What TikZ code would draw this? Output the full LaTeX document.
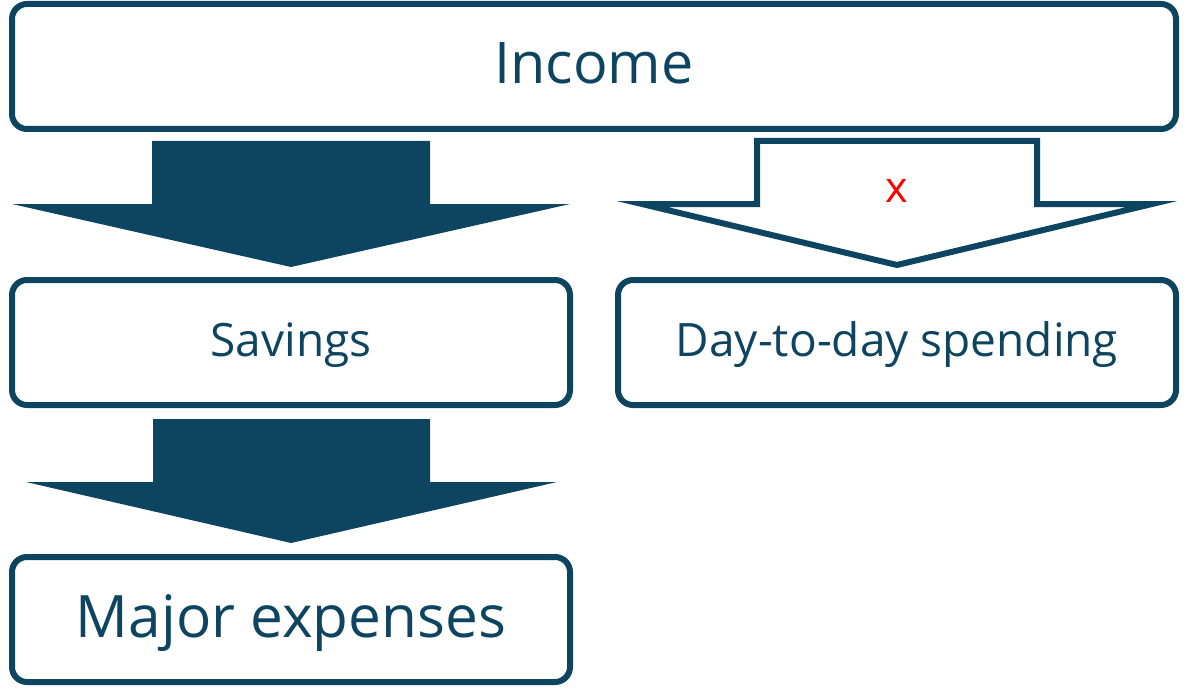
\documentclass[tikz,border=0pt]{standalone}
\usepackage{fontspec}
\setmainfont{Open Sans}
\definecolor{navy}{RGB}{13,69,96}
\definecolor{xred}{RGB}{255,0,0}
\begin{document}
\begin{tikzpicture}[x=1pt,y=-1pt,
  box/.style={draw=navy,line width=6pt,rounded corners=15pt,inner sep=0pt,text=navy,minimum height=125pt},
  bigtxt/.style={font=\fontsize{57.5}{64}\selectfont,text height=45.5pt,text depth=11.5pt},
  midtxt/.style={font=\fontsize{46}{52}\selectfont,text height=38.5pt,text depth=10pt},
  majtxt/.style={font=\fontsize{58.5}{66}\selectfont,text height=47pt,text depth=12pt},
  solidarrow/.style={fill=navy,draw=none},
  openarrow/.style={draw=navy,line width=6pt,fill=white,line join=miter,miter limit=20}]
\useasboundingbox (0,0) rectangle (1200,698);
\node[box,bigtxt,minimum width=1164pt] (inc) at (594,66.5) {Income};
\node[box,midtxt,minimum width=558pt] (sav) at (291,342.5) {Savings};
\node[box,midtxt,minimum width=558pt] (day) at (897,342.5) {Day-to-day spending};
\node[box,majtxt,minimum width=558pt] (maj) at (291,619.5) {Major expenses};
% solid arrow Income -> Savings
\fill[solidarrow] (152,141) -- (430,141) -- (430,204) -- (570,204) -- (291,267) -- (12,204) -- (152,204) -- cycle;
% open arrow Income -> Day-to-day
\draw[openarrow] (757,141) -- (1037,141) -- (1037,204) -- (1152,204) -- (897,265) -- (642,204) -- (757,204) -- cycle;
\node[text=xred,font=\fontsize{43}{48}\selectfont,anchor=base,inner sep=0pt] (xmark) at (897,203) {x};
% solid arrow Savings -> Major
\fill[solidarrow] (153,419) -- (430,419) -- (430,482) -- (557,482) -- (291,543) -- (26,482) -- (153,482) -- cycle;
\end{tikzpicture}
\end{document}
